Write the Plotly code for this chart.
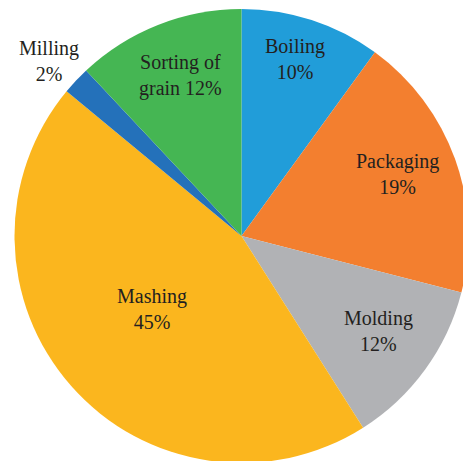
import plotly.graph_objects as go

# Share of energy use by process step
steps = ["Boiling", "Packaging", "Molding", "Mashing", "Milling", "Sorting of grain"]
shares = [10, 19, 12, 45, 2, 12]
colors = ["#219DD9", "#F37F2F", "#B1B2B5", "#FBB61E", "#2471BA", "#45B653"]

# Label layout (text lines and pixel anchor of each label block)
label_lines = {
    "Boiling": ["Boiling", "{v}%"],
    "Packaging": ["Packaging", "{v}%"],
    "Molding": ["Molding", "{v}%"],
    "Mashing": ["Mashing", "{v}%"],
    "Milling": ["Milling", "{v}%"],
    "Sorting of grain": ["Sorting of", "grain {v}%"],
}
label_px = {
    "Boiling": (295, 59),
    "Packaging": (397, 174),
    "Molding": (378, 331),
    "Mashing": (152, 309),
    "Milling": (49, 61),
    "Sorting of grain": (180, 75),
}

W, H = 482, 472
CX, CY, R = 241.5, 236, 227

fig = go.Figure(
    go.Pie(
        labels=steps,
        values=shares,
        marker=dict(colors=colors, line=dict(width=0)),
        sort=False,
        direction="clockwise",
        rotation=0,
        textinfo="none",
        hoverinfo="label+percent",
        domain=dict(x=[(CX - R) / W, (CX + R) / W], y=[(H - CY - R) / H, (H - CY + R) / H]),
        showlegend=False,
    )
)

for name, val in zip(steps, shares):
    px, py = label_px[name]
    text = "<br>".join(s.format(v=val) for s in label_lines[name])
    fig.add_annotation(
        x=px / W, y=1 - py / H, xref="paper", yref="paper",
        text=text, showarrow=False, align="center",
        xanchor="center", yanchor="middle",
        font=dict(family="Liberation Serif, DejaVu Serif, serif", size=20, color="#231F20"),
    )

fig.update_layout(
    width=W, height=H,
    margin=dict(l=0, r=0, t=0, b=0),
    paper_bgcolor="white",
    plot_bgcolor="white",
)

fig.write_html(
    "out.html",
    post_script=(
        "document.documentElement.style.overflow='hidden';"
        "document.body.style.overflow='hidden';"
        "document.body.style.margin='0';"
    ),
)
